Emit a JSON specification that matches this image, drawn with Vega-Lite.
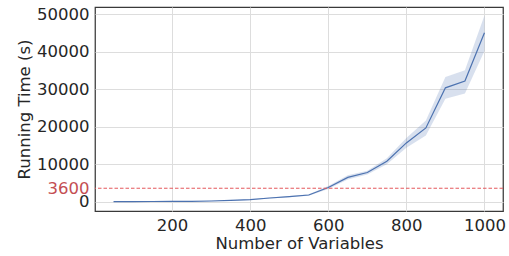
{
  "$schema": "https://vega.github.io/schema/vega-lite/v6.json",
  "width": 408,
  "height": 204,
  "autosize": {"type": "none"},
  "padding": {"left": 95, "top": 7, "right": 6, "bottom": 45},
  "background": "white",
  "config": {
    "font": "DejaVu Sans",
    "view": {"stroke": "#3a3a3a", "strokeWidth": 1.25},
    "axis": {
      "labelFont": "DejaVu Sans",
      "titleFont": "DejaVu Sans",
      "labelFontSize": 16.5,
      "titleFontSize": 16.5,
      "titleFontWeight": "normal",
      "labelColor": "#262626",
      "titleColor": "#262626",
      "domain": false,
      "ticks": false,
      "gridColor": "#dddddd",
      "gridWidth": 1
    }
  },
  "data": {
    "values": [
      {"n": 50, "t": 20, "lo": 0, "hi": 40},
      {"n": 100, "t": 40, "lo": 20, "hi": 60},
      {"n": 150, "t": 60, "lo": 40, "hi": 80},
      {"n": 200, "t": 80, "lo": 50, "hi": 110},
      {"n": 250, "t": 120, "lo": 80, "hi": 160},
      {"n": 300, "t": 200, "lo": 150, "hi": 250},
      {"n": 350, "t": 350, "lo": 280, "hi": 420},
      {"n": 400, "t": 550, "lo": 450, "hi": 650},
      {"n": 450, "t": 1000, "lo": 850, "hi": 1150},
      {"n": 500, "t": 1350, "lo": 1200, "hi": 1500},
      {"n": 550, "t": 1800, "lo": 1600, "hi": 2000},
      {"n": 600, "t": 3800, "lo": 3400, "hi": 4200},
      {"n": 650, "t": 6500, "lo": 5900, "hi": 7100},
      {"n": 700, "t": 7800, "lo": 7300, "hi": 8300},
      {"n": 750, "t": 10800, "lo": 10000, "hi": 11600},
      {"n": 800, "t": 15700, "lo": 14400, "hi": 17000},
      {"n": 850, "t": 19700, "lo": 17700, "hi": 21700},
      {"n": 900, "t": 30400, "lo": 27500, "hi": 33300},
      {"n": 950, "t": 32200, "lo": 28900, "hi": 35100},
      {"n": 1000, "t": 45100, "lo": 40200, "hi": 49700}
    ]
  },
  "encoding": {
    "x": {"field": "n", "type": "quantitative",
      "scale": {"domain": [2.5, 1047.5], "nice": false, "zero": false},
      "axis": {"values": [200, 400, 600, 800, 1000], "format": "d", "title": "Number of Variables", "labelPadding": 6, "titlePadding": 2, "labelOverlap": false}},
    "y": {"field": "t", "type": "quantitative",
      "scale": {"domain": [-2475, 51975], "nice": false, "zero": false},
      "axis": {"values": [0, 3600, 10000, 20000, 30000, 40000, 50000], "format": "d",
        "title": "Running Time (s)", "labelPadding": 6, "titlePadding": 4,
        "labelOverlap": false, "labelBound": false, "tickCount": 7,
        "labelColor": {"condition": {"test": "datum.value == 3600", "value": "#c44e52"}, "value": "#262626"},
        "gridColor": {"condition": {"test": "datum.value == 3600", "value": "transparent"}, "value": "#dddddd"}}}
  },
  "layer": [
    {
      "mark": {"type": "area", "color": "#4c72b0", "opacity": 0.22},
      "encoding": {
        "y": {"field": "lo", "type": "quantitative"},
        "y2": {"field": "hi"}
      }
    },
    {
      "mark": {"type": "line", "color": "#4c72b0", "strokeWidth": 1.2}
    },
    {
      "data": {"values": [{"limit": 3600}]},
      "mark": {"type": "rule", "color": "#e4585c", "strokeDash": [3.5, 2], "strokeWidth": 1},
      "encoding": {
        "x": null,
        "y": {"field": "limit", "type": "quantitative"}
      }
    }
  ]
}
